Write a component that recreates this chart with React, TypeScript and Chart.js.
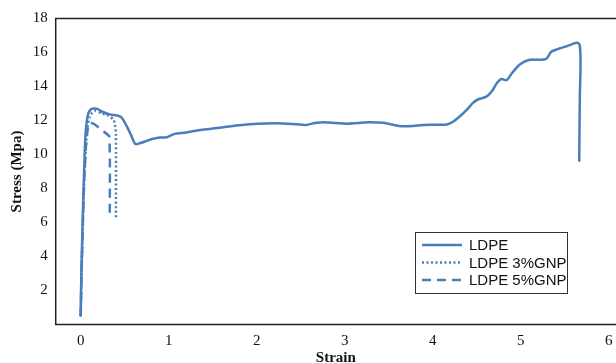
import React, { useEffect, useRef } from "react";
import { Chart, registerables } from "chart.js";
Chart.register(...registerables);

const seriesNames = ["LDPE", "LDPE 3%GNP", "LDPE 5%GNP"];

const ldpeStrain = [0, 0.004, 0.012, 0.022, 0.033, 0.045, 0.055, 0.068, 0.086, 0.115, 0.145, 0.19, 0.25, 0.33, 0.41, 0.46, 0.52, 0.58, 0.62, 0.67, 0.74, 0.8, 0.9, 0.98, 1.06, 1.2, 1.36, 1.55, 1.73, 1.92, 2.11, 2.3, 2.45, 2.56, 2.66, 2.76, 2.9, 3.02, 3.15, 3.27, 3.44, 3.55, 3.65, 3.78, 3.89, 4.05, 4.16, 4.23, 4.31, 4.4, 4.46, 4.52, 4.61, 4.67, 4.73, 4.78, 4.84, 4.9, 4.99, 5.09, 5.18, 5.28, 5.31, 5.35, 5.48, 5.58, 5.64, 5.67, 5.68, 5.672, 5.665];
const ldpeStress = [0.45, 2, 4, 6, 8, 10, 11.2, 11.9, 12.4, 12.65, 12.7, 12.68, 12.5, 12.36, 12.3, 12.2, 11.7, 11.05, 10.62, 10.66, 10.78, 10.9, 11.0, 11.02, 11.2, 11.3, 11.44, 11.56, 11.68, 11.78, 11.83, 11.83, 11.78, 11.74, 11.85, 11.9, 11.85, 11.81, 11.86, 11.9, 11.87, 11.75, 11.66, 11.68, 11.74, 11.75, 11.77, 11.93, 12.25, 12.7, 13.05, 13.25, 13.4, 13.7, 14.2, 14.44, 14.38, 14.78, 15.3, 15.56, 15.58, 15.6, 15.75, 16.05, 16.3, 16.48, 16.58, 16.44, 15.4, 13.4, 9.58];

const gnp3Strain = [0, 0.01, 0.025, 0.04, 0.06, 0.075, 0.1, 0.13, 0.166, 0.24, 0.32, 0.375, 0.39, 0.4, 0.4];
const gnp3Stress = [0.5, 3, 6, 8.5, 10.5, 11.5, 12.2, 12.45, 12.56, 12.42, 12.28, 12.03, 11.74, 11.2, 6.25];

const gnp5Strain = [0, 0.01, 0.025, 0.04, 0.06, 0.08, 0.1, 0.15, 0.2, 0.26, 0.325, 0.33];
const gnp5Stress = [0.5, 3, 6, 8.5, 10.5, 11.5, 11.85, 11.8, 11.6, 11.35, 11.05, 6.25];

const xTicks = [0, 1, 2, 3, 4, 5, 6];
const yTicks = [2, 4, 6, 8, 10, 12, 14, 16, 18];

const LINE_COLOR = "#4a7ebb";
const dashes = [[], [2, 2.5], [9, 6]];

const toPoints = (xs: number[], ys: number[]) => xs.map((x, i) => ({ x, y: ys[i] }));

const boxPlugin = {
  id: "boxAndLegend",
  afterDraw(chart: any) {
    const { ctx, chartArea } = chart;
    ctx.save();
    ctx.strokeStyle = "#222";
    ctx.lineWidth = 1.5;
    ctx.beginPath();
    ctx.moveTo(chartArea.right + 10, chartArea.top);
    ctx.lineTo(chartArea.left, chartArea.top);
    ctx.lineTo(chartArea.left, chartArea.bottom);
    ctx.lineTo(chartArea.right + 10, chartArea.bottom);
    ctx.stroke();

    // legend box
    const bx = 407, by = 224, bw = 152, bh = 61;
    ctx.lineWidth = 1;
    ctx.strokeStyle = "#333";
    ctx.strokeRect(bx + 0.5, by + 0.5, bw, bh);
    const rows = [237, 254.5, 272];
    ctx.font = "15px 'Liberation Sans', Arial, sans-serif";
    ctx.textBaseline = "middle";
    ctx.fillStyle = "#111";
    seriesNames.forEach((name, i) => {
      ctx.strokeStyle = LINE_COLOR;
      ctx.lineWidth = 2.5;
      ctx.setLineDash(dashes[i]);
      ctx.beginPath();
      ctx.moveTo(414, rows[i]);
      ctx.lineTo(454, rows[i]);
      ctx.stroke();
      ctx.setLineDash([]);
      ctx.fillText(name, 461, rows[i] + 1);
    });
    ctx.restore();
  },
};

export default function App() {
  const ref = useRef<HTMLCanvasElement | null>(null);
  useEffect(() => {
    document.documentElement.style.overflow = "hidden";
    if (!ref.current) return;
    const data = [
      toPoints(ldpeStrain, ldpeStress),
      toPoints(gnp3Strain, gnp3Stress),
      toPoints(gnp5Strain, gnp5Stress),
    ];
    const chart = new Chart(ref.current, {
      type: "line",
      data: {
        datasets: seriesNames.map((name, i) => ({
          label: name,
          data: data[i],
          borderColor: LINE_COLOR,
          backgroundColor: LINE_COLOR,
          borderWidth: 2.5,
          borderDash: dashes[i],
          pointRadius: 0,
          tension: i === 0 ? 0.3 : 0.2,
          fill: false,
        })),
      },
      options: {
        animation: false,
        responsive: false,
        parsing: false as any,
        layout: { padding: { top: 10.5, right: 0, left: 0, bottom: 0 } },
        plugins: { legend: { display: false }, tooltip: { enabled: false } },
        scales: {
          x: {
            type: "linear",
            min: -0.284,
            max: 6.083,
            grid: { display: false, drawTicks: false },
            border: { display: false },
            afterBuildTicks: (s: any) => {
              s.ticks = xTicks.map((v) => ({ value: v }));
            },
            afterFit: (s: any) => {
              s.height = 38.5;
              s.paddingLeft = 0;
              s.paddingRight = 0;
            },
            ticks: {
              padding: 8,
              maxRotation: 0,
              color: "#111",
              font: { family: "'Liberation Serif', 'Times New Roman', serif", size: 15 },
            },
            title: {
              display: true,
              text: "Strain",
              color: "#111",
              padding: { top: 0, bottom: -4 },
              font: { family: "'Liberation Serif', 'Times New Roman', serif", size: 15, weight: "bold" },
            },
          },
          y: {
            type: "linear",
            min: 0,
            max: 18,
            grid: { display: false, drawTicks: false },
            border: { display: false },
            afterBuildTicks: (s: any) => {
              s.ticks = yTicks.map((v) => ({ value: v }));
            },
            afterFit: (s: any) => {
              s.width = 47.7;
              s.paddingTop = 0;
              s.paddingBottom = 0;
            },
            ticks: {
              padding: 8,
              color: "#111",
              font: { family: "'Liberation Serif', 'Times New Roman', serif", size: 15 },
            },
            title: {
              display: true,
              text: "Stress (Mpa)",
              color: "#111",
              padding: { top: 0, bottom: 0 },
              font: { family: "'Liberation Serif', 'Times New Roman', serif", size: 15, weight: "bold" },
            },
          },
        },
      },
      plugins: [boxPlugin],
    });
    return () => chart.destroy();
  }, []);
  return (
    <div style={{ position: "fixed", left: 8, top: 8, width: 608, height: 355 }}>
      <canvas ref={ref} width={608} height={355} style={{ display: "block" }} />
    </div>
  );
}
